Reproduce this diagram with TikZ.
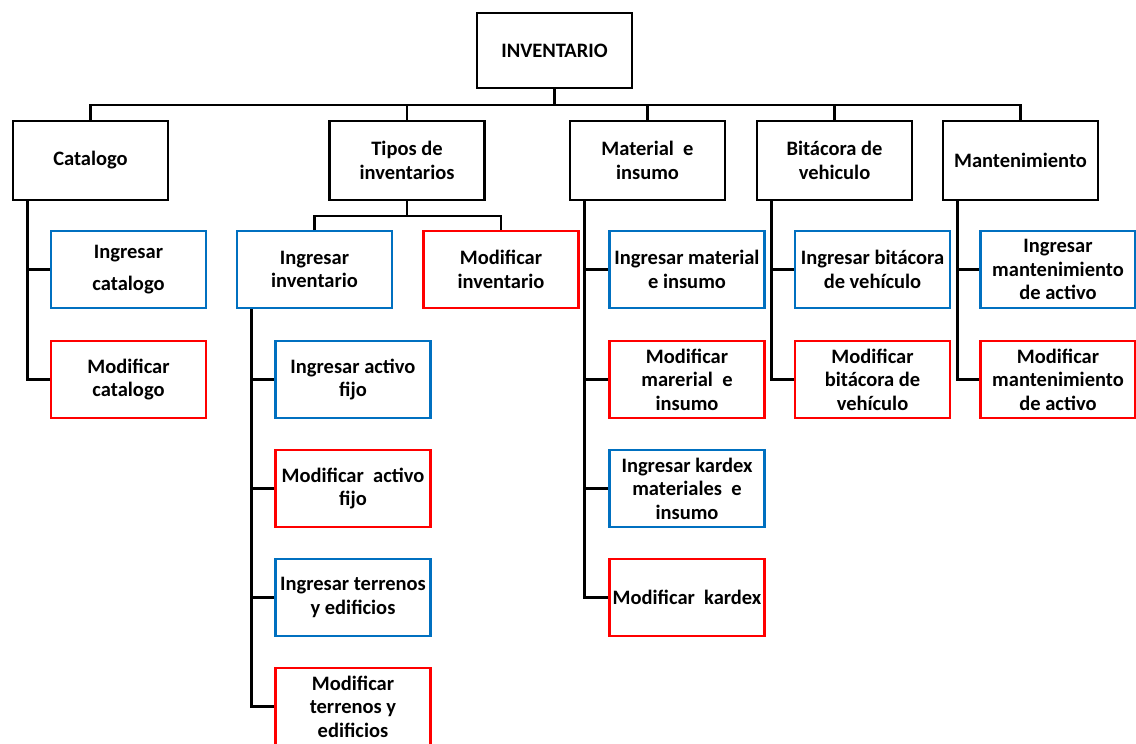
\documentclass[tikz,border=0pt]{standalone}
\usepackage{fontspec}
\setmainfont{Carlito}
\definecolor{azul}{RGB}{0,112,192}
\definecolor{rojo}{RGB}{255,0,0}
\begin{document}
\begin{tikzpicture}[x=1pt,y=-1pt,
  caja/.style={draw=black,line width=2.6pt,minimum width=155pt,minimum height=77pt,inner sep=0pt,align=center,font=\fontsize{20.5}{23.5}\selectfont\bfseries},
  ingresa/.style={caja,draw=azul},
  modifica/.style={caja,draw=rojo},
  linea/.style={line width=2.6pt}]
\clip (0,0) rectangle (1136,744);
\node[caja,minimum height=75pt] (inv) at (554.5,50.5) {INVENTARIO};
\node[caja,minimum height=79pt] (cat) at (90.5,160.5) {Catalogo};
\node[caja,minimum height=79pt] (tip) at (407,160.5) {Tipos de\\inventarios};
\node[caja,minimum height=79pt] (mat) at (647.5,160.5) {Material\ \ e\\insumo};
\node[caja,minimum height=79pt] (bit) at (834.5,160.5) {Bitácora de\\vehiculo};
\node[caja,minimum height=79pt] (man) at (1020.5,160.5) {Mantenimiento};
\node[ingresa,font=\fontsize{20.5}{32}\selectfont\bfseries] (icat) at (128.5,269.5) {Ingresar\\catalogo};
\node[modifica] (mcat) at (128.5,379.5) {Modificar\\catalogo};
\node[ingresa] (iinv) at (314.5,269.5) {Ingresar\\inventario};
\node[modifica] (minv) at (501,269.5) {Modificar\\inventario};
\node[ingresa] (iact) at (353,379.5) {Ingresar activo\\fijo};
\node[modifica] (mact) at (353,488.5) {Modificar\ \ activo\\fijo};
\node[ingresa] (iter) at (353,597.5) {Ingresar terrenos\\y edificios};
\node[modifica] (mter) at (353,706.5) {Modificar\\terrenos y\\edificios};
\node[ingresa] (imat) at (687,269.5) {Ingresar material\\e insumo};
\node[modifica] (mmat) at (687,379.5) {Modificar\\marerial\ \ e\\insumo};
\node[ingresa] (ikar) at (687,488.5) {Ingresar kardex\\materiales\ \ e\\insumo};
\node[modifica] (mkar) at (687,597.5) {Modificar\ \ kardex};
\node[ingresa] (ibit) at (872.5,269.5) {Ingresar bitácora\\de vehículo};
\node[modifica] (mbit) at (872.5,379.5) {Modificar\\bitácora de\\vehículo};
\node[ingresa] (iman) at (1058,269.5) {Ingresar\\mantenimiento\\de activo};
\node[modifica] (mman) at (1058,379.5) {Modificar\\mantenimiento\\de activo};
\coordinate (bus) at (0,105);
\coordinate (subbus) at (0,216);
\draw[linea] (inv.south) -- (inv.south |- bus);
\draw[linea] (cat.north) -- (cat.north |- bus) -| (man.north);
\foreach \n in {tip,mat,bit}
  \draw[linea] (\n.north) -- (\n.north |- bus);
\draw[linea] (tip.south) -- (tip.south |- subbus);
\draw[linea] (iinv.north) -- (iinv.north |- subbus) -| (minv.north);
\foreach \p/\last/\rest in {cat/mcat/icat,mat/mkar/{imat,mmat,ikar},bit/mbit/ibit,man/mman/iman,iinv/mter/{iact,mact,iter}}{
  \coordinate (t\p) at ([xshift=15.5pt]\p.south west);
  \draw[linea] (t\p) |- (\last.west);
  \foreach \h in \rest
    \draw[linea] (t\p |- \h.west) -- (\h.west);
}
\end{tikzpicture}
\end{document}
